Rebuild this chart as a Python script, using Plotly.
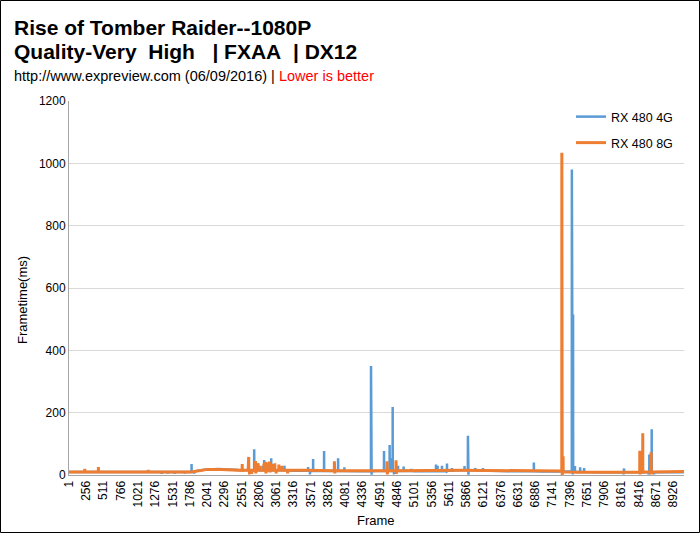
import plotly.graph_objects as go

# ---- data (frame -> frametime in ms) ----
# slowly varying baseline key points
blue_base_frames = [1, 1800, 1900, 2000, 2200, 2500, 2700, 3300, 3600, 4300, 4550, 5100, 5300, 5600,
                    5700, 6100, 6500, 7000, 7420, 7500, 7800, 9083]
blue_base_ms = [10, 10, 14, 17, 19, 16, 15, 14, 13, 12, 13, 12, 12, 14,
                15, 14, 12, 11, 12, 10, 9, 9]
# single-frame spikes / dips
blue_spike_frames = [1370, 1460, 1560, 1710, 1811, 1850, 2208, 2736, 2795, 2860, 2883, 2950, 2987,
                     3183, 3532, 3560, 3606, 3768, 3975, 4068, 4461, 4470, 4653, 4736, 4762, 4781,
                     4800, 4860, 4943, 5056, 5421, 5444, 5509, 5583, 5656, 5842, 5892, 5900, 6000,
                     6114, 6866, 7427, 7440, 7445, 7472, 7549, 7608, 8190, 8198, 8560, 8571, 8606,
                     8640]
blue_spike_ms = [3, 4, 3, 4, 35, 4, 22, 83, 38, 30, 48, 35, 54,
                 30, 26, 2, 51, 77, 54, 25, 350, 1, 77, 96, 54, 218,
                 2, 30, 27, 20, 34, 30, 30, 37, 22, 29, 126, 1, 22,
                 22, 40, 980, 2, 515, 29, 25, 22, 2, 21, 2, 66, 147,
                 2]

orange_base_frames = [1, 1800, 1950, 2050, 2250, 2400, 2550, 3500, 3700, 4400, 4800, 5800, 6500,
                      7270, 7290, 7500, 8500, 9083]
orange_base_ms = [10, 10, 15, 18, 18, 16, 15, 15, 14, 14, 14, 15, 14,
                  13, 10, 9, 10, 11]
orange_spike_frames = [234, 435, 1172, 2559, 2647, 2655, 2667, 2700, 2755, 2760, 2790, 2820, 2850,
                       2880, 2900, 2910, 2930, 2945, 2960, 2970, 2990, 3000, 3020, 3040, 3060, 3080,
                       3100, 3120, 3150, 3230, 3920, 3926, 4697, 4703, 4830, 4836, 7279, 7284, 7298,
                       8430, 8436, 8474, 8597, 8600]
orange_spike_ms = [20, 26, 17, 35, 58, 58, 2, 3, 45, 5, 38, 30, 20,
                   36, 42, 5, 40, 25, 43, 8, 30, 35, 35, 38, 5, 20,
                   34, 28, 30, 5, 44, 5, 44, 2, 47, 3, 1034, 0, 60,
                   78, 2, 134, 73, 2]

series_names = ["RX 480 4G", "RX 480 8G"]
tick_frames = list(range(1, 9083, 255))
y_ticks = [0, 200, 400, 600, 800, 1000, 1200]


def build(base_f, base_v, spk_f, spk_v):
    """Merge baseline key points with single-frame spikes (flanked by the current baseline level)."""
    pts = list(zip(base_f, base_v))
    for f, v in zip(spk_f, spk_v):
        lvl = [bv for bf, bv in zip(base_f, base_v) if bf <= f][-1]
        pts += [(f - 1, lvl), (f, v), (f + 1, lvl)]
    pts.sort(key=lambda p: p[0])
    return [p[0] for p in pts], [p[1] for p in pts]


bx, by = build(blue_base_frames, blue_base_ms, blue_spike_frames, blue_spike_ms)
ox, oy = build(orange_base_frames, orange_base_ms, orange_spike_frames, orange_spike_ms)

# ---- layout geometry (pixels) ----
W, H = 700, 533
L, R, T, B = 69, 16, 101, 58
PW, PH = W - L - R, H - T - B


def px(x):
    return (x - L) / PW


def py(y):
    return (H - B - y) / PH


FONT = "Arial, 'Liberation Sans', sans-serif"
BLUE = "#5B9BD5"
ORANGE = "#ED7D31"

fig = go.Figure()
fig.add_trace(go.Scatter(x=bx, y=by, mode="lines", name=series_names[0],
                         line=dict(color=BLUE, width=2.5), legend="legend"))
fig.add_trace(go.Scatter(x=ox, y=oy, mode="lines", name=series_names[1],
                         line=dict(color=ORANGE, width=3), legend="legend2"))

NB = "\u00a0"
annotations = [
    dict(text="<b>Rise of Tomber Raider--1080P</b>", x=px(12), y=py(27), font=dict(size=21, color="#000000")),
    dict(text="<b>Quality-Very" + NB + NB + "High" + NB * 3 + "| FXAA" + NB + NB + "| DX12</b>",
         x=px(12), y=py(52), font=dict(size=21, color="#000000")),
    dict(text="http://www.expreview.com (06/09/2016) | <span style='color:#FF0000'>Lower is better</span>",
         x=px(12), y=py(76), font=dict(size=14.5, color="#000000")),
]
anns = []
for a in annotations:
    anns.append(dict(xref="paper", yref="paper", xanchor="left", yanchor="middle",
                     showarrow=False, **a))
anns.append(dict(text="Frametime(ms)", xref="paper", yref="paper", x=px(22), y=py(300),
                 textangle=-90, showarrow=False, xanchor="center", yanchor="middle",
                 font=dict(size=13, color="#000000")))
anns.append(dict(text="Frame", xref="paper", yref="paper", x=px(376), y=py(520),
                 showarrow=False, xanchor="center", yanchor="middle",
                 font=dict(size=13, color="#000000")))

fig.update_layout(
    width=W, height=H,
    margin=dict(l=L, r=R, t=T, b=B, pad=0),
    paper_bgcolor="white", plot_bgcolor="white",
    font=dict(family=FONT, size=12, color="#000000"),
    annotations=anns,
    showlegend=True,
    legend=dict(x=px(571), y=py(117), xanchor="left", yanchor="middle",
                bgcolor="rgba(0,0,0,0)", font=dict(size=12.5), itemwidth=30),
    legend2=dict(x=px(571), y=py(143), xanchor="left", yanchor="middle",
                 bgcolor="rgba(0,0,0,0)", font=dict(size=12.5), itemwidth=30),
    xaxis=dict(range=[1, 9083], tickmode="array", tickvals=tick_frames,
               ticktext=[str(t) for t in tick_frames], tickangle=-90,
               showgrid=False, zeroline=False, showline=True, linecolor="#A6A6A6",
               linewidth=1, ticks="", tickfont=dict(size=12, color="#000000")),
    yaxis=dict(range=[0, 1200], tickvals=y_ticks, showgrid=True, gridcolor="#D9D9D9",
               gridwidth=1, zeroline=False, showline=True, linecolor="#A6A6A6", linewidth=1,
               ticks="", tickfont=dict(size=12, color="#000000")),
    shapes=[dict(type="rect", xref="paper", yref="paper",
                 x0=px(0.5), x1=px(699.5), y0=py(532.5), y1=py(0.5),
                 line=dict(color="#000000", width=1), fillcolor="rgba(0,0,0,0)")],
)

fig.write_html("out.html", config={"displayModeBar": False},
               post_script="document.body.style.margin='0px';")
